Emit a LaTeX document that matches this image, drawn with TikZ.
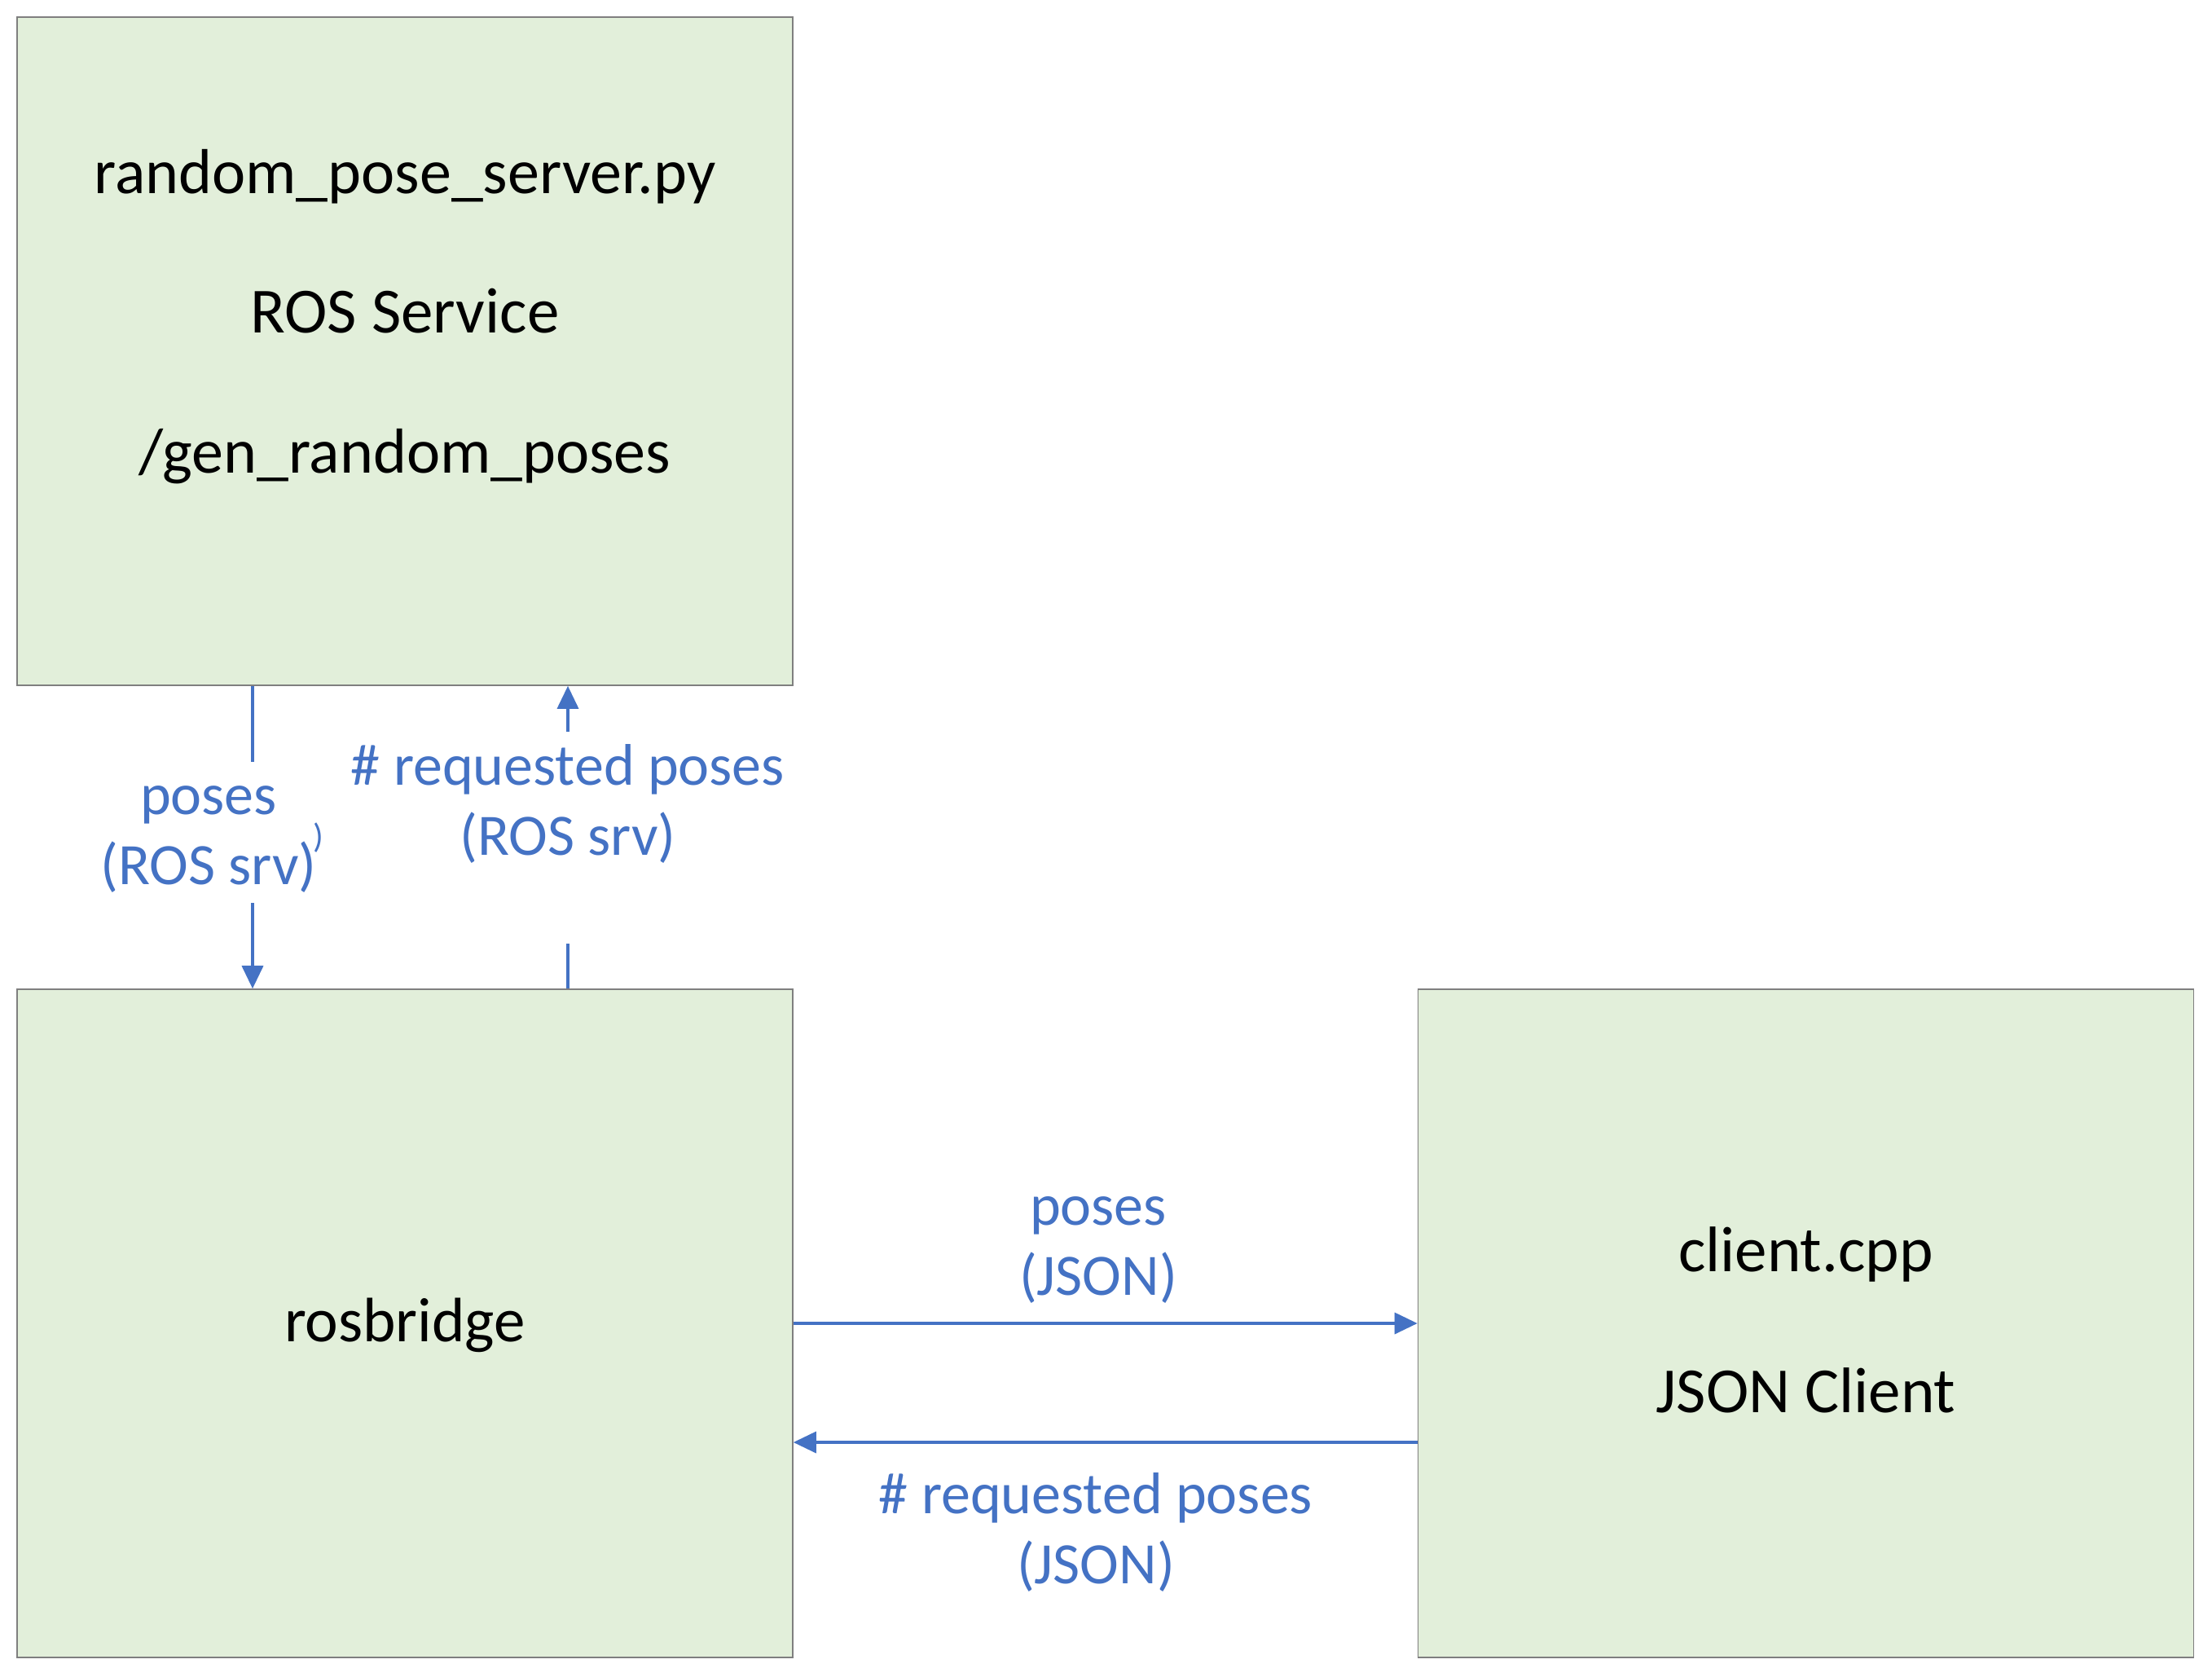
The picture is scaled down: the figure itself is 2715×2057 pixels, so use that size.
\documentclass[tikz,border=0pt]{standalone}
\usepackage{fontspec}
\setmainfont{Carlito}
\usetikzlibrary{arrows.meta}
\definecolor{boxfill}{HTML}{E2EFDA}
\definecolor{boxline}{HTML}{7F7F7F}
\definecolor{conncol}{HTML}{4472C4}
\tikzset{
  block/.style={draw=boxline, line width=1.6pt, fill=boxfill, rectangle, minimum width=952pt, minimum height=820pt, inner sep=0pt},
  boxtext/.style={anchor=base, inner sep=0pt, text=black, font=\fontsize{79}{95}\selectfont},
  lbltext/.style={anchor=base, inner sep=0pt, text=conncol, font=\fontsize{72}{86}\selectfont},
  conn/.style={draw=conncol, line width=3.5pt},
  connarrow/.style={conn, -{Triangle[length=28pt,width=26pt]}}
}
\begin{document}
\begin{tikzpicture}[x=1pt,y=-1pt]
\useasboundingbox[fill=white] (0,0) rectangle (2715,2057);
% boxes
\node[block] (srv) at (497,431) {};
\node[block] (rb) at (497,1624) {};
\node[block] (cl) at (2216.5,1624) {};
% box texts
\node[boxtext, font=\fontsize{78}{94}\selectfont] (t1) at (497,237) {random\_pose\_server.py};
\node[boxtext] (t2) at (497,408) {ROS Service};
\node[boxtext, font=\fontsize{78}{94}\selectfont] (t3) at (497,580) {/gen\_random\_poses};
\node[boxtext, font=\fontsize{77}{92}\selectfont] (t4) at (497,1646) {rosbridge};
\node[boxtext] (t5) at (2216.5,1560) {client.cpp};
\node[boxtext] (t6) at (2216.5,1733) {JSON Client};
% vertical connectors
\coordinate (d1) at (310,935);
\coordinate (d2) at (310,1108);
\coordinate (u1) at (697,1158);
\coordinate (u2) at (697,898);
\draw[conn] (srv.south -| d1) -- (d1);
\draw[connarrow] (d2) -- (rb.north -| d2);
\draw[conn] (rb.north -| u1) -- (u1);
\draw[connarrow] (u2) -- (srv.south -| u2);
% vertical labels
\node[lbltext] (l1) at (256,999) {poses};
\node[lbltext] (l2) at (256,1085) {(ROS srv)};
\node[inner sep=0pt, text=conncol, font=\fontsize{42}{50}\selectfont] (l2b) at (391,1028) {)};
\node[lbltext] (l3) at (697,963) {\# requested poses};
\node[lbltext] (l4) at (697,1049) {(ROS srv)};
% horizontal connectors
\coordinate (h1) at (0,1624);
\coordinate (h2) at (0,1770);
\draw[connarrow] (rb.east |- h1) -- (cl.west |- h1);
\draw[connarrow] (cl.west |- h2) -- (rb.east |- h2);
% horizontal labels
\node[lbltext] (l5) at (1348,1503) {poses};
\node[lbltext] (l6) at (1348,1589) {(JSON)};
\node[lbltext] (l7) at (1345,1857) {\# requested poses};
\node[lbltext] (l8) at (1345,1943) {(JSON)};
\end{tikzpicture}
\end{document}
